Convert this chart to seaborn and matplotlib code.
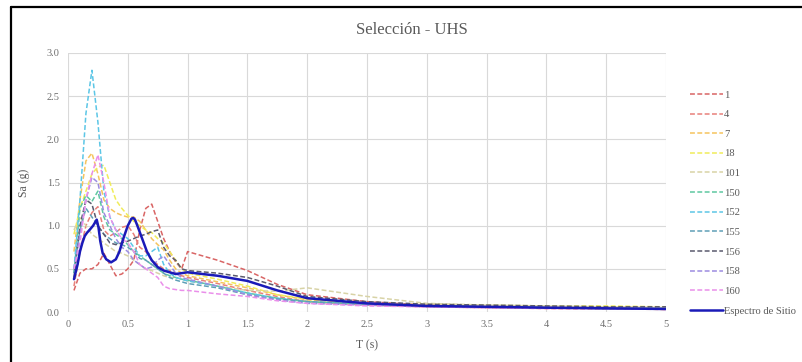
import matplotlib
matplotlib.use("Agg")
import matplotlib.pyplot as plt
from matplotlib.lines import Line2D
import seaborn as sns
import pandas as pd

# ---- data ----
periods = [0.05, 0.1, 0.15, 0.2, 0.25, 0.3, 0.35, 0.4, 0.45, 0.5, 0.55, 0.6, 0.65, 0.7, 0.75,
           0.8, 0.85, 0.9, 0.95, 1.0, 1.25, 1.5, 1.75, 2.0, 2.5, 3.0, 3.5, 4.0, 4.5, 5.0]

s1 = [0.25, 0.45, 0.5, 0.5, 0.55, 0.68, 0.55, 0.42, 0.44, 0.5, 0.6, 0.95, 1.2, 1.25, 1.05,
      0.85, 0.7, 0.58, 0.5, 0.7, 0.6, 0.48, 0.32, 0.2, 0.12, 0.08, 0.06, 0.05, 0.04, 0.03]
s4 = [0.3, 0.7, 1.0, 1.15, 1.22, 0.95, 0.88, 0.92, 0.98, 1.0, 0.9, 0.75, 0.7, 0.6, 0.55,
      0.5, 0.48, 0.45, 0.42, 0.4, 0.33, 0.25, 0.18, 0.12, 0.08, 0.06, 0.05, 0.04, 0.035, 0.03]
s7 = [0.7, 1.3, 1.75, 1.84, 1.6, 1.3, 1.2, 1.15, 1.12, 1.1, 1.1, 1.05, 0.95, 0.85, 0.78,
      0.72, 0.6, 0.5, 0.45, 0.42, 0.35, 0.28, 0.2, 0.14, 0.1, 0.08, 0.07, 0.06, 0.06, 0.05]
s18 = [0.9, 1.2, 1.4, 1.6, 1.68, 1.7, 1.5, 1.3, 1.2, 1.12, 1.05, 1.0, 0.95, 0.92, 0.85,
       0.8, 0.7, 0.6, 0.5, 0.45, 0.38, 0.3, 0.2, 0.15, 0.1, 0.09, 0.08, 0.07, 0.07, 0.06]
s101 = [0.95, 1.1, 1.0, 0.9, 0.85, 0.8, 0.75, 0.7, 0.68, 0.65, 0.6, 0.55, 0.5, 0.48, 0.45,
        0.42, 0.4, 0.4, 0.38, 0.36, 0.3, 0.25, 0.24, 0.28, 0.18, 0.1, 0.08, 0.07, 0.06, 0.05]
s150 = [0.45, 1.2, 1.35, 1.28, 1.4, 1.1, 0.95, 0.9, 0.85, 0.78, 0.7, 0.65, 0.6, 0.55, 0.5,
        0.45, 0.42, 0.4, 0.38, 0.37, 0.3, 0.22, 0.16, 0.12, 0.09, 0.07, 0.06, 0.05, 0.04, 0.04]
s152 = [0.5, 1.3, 2.3, 2.8, 2.2, 1.4, 1.1, 0.95, 0.9, 0.85, 0.75, 0.65, 0.65, 0.7, 0.75,
        0.55, 0.45, 0.4, 0.38, 0.36, 0.3, 0.22, 0.16, 0.12, 0.09, 0.07, 0.06, 0.05, 0.04, 0.04]
s155 = [0.45, 0.95, 1.2, 1.1, 1.0, 0.9, 0.85, 0.8, 0.78, 0.75, 0.7, 0.62, 0.6, 0.55, 0.5,
        0.45, 0.4, 0.37, 0.35, 0.33, 0.28, 0.2, 0.15, 0.12, 0.09, 0.07, 0.06, 0.05, 0.04, 0.04]
s156 = [0.4, 1.0, 1.3, 1.25, 1.0, 0.9, 0.8, 0.78, 0.8, 0.82, 0.85, 0.88, 0.9, 0.93, 0.95,
        0.75, 0.65, 0.6, 0.5, 0.48, 0.45, 0.4, 0.3, 0.18, 0.12, 0.09, 0.08, 0.07, 0.06, 0.06]
s158 = [0.5, 0.9, 1.3, 1.56, 1.5, 1.15, 1.0, 0.85, 0.75, 0.7, 0.6, 0.55, 0.5, 0.52, 0.6,
        0.65, 0.55, 0.45, 0.4, 0.38, 0.3, 0.2, 0.14, 0.1, 0.08, 0.06, 0.05, 0.05, 0.04, 0.04]
s160 = [0.5, 0.8, 1.3, 1.6, 1.82, 1.5, 1.1, 0.95, 0.85, 0.8, 0.7, 0.55, 0.5, 0.45, 0.4,
        0.3, 0.27, 0.26, 0.25, 0.25, 0.21, 0.18, 0.13, 0.1, 0.07, 0.06, 0.05, 0.04, 0.04, 0.03]

site_periods = [0.05, 0.08, 0.1, 0.12, 0.14, 0.16, 0.18, 0.21, 0.24, 0.255, 0.27, 0.29,
                0.32, 0.36, 0.4, 0.43, 0.46, 0.5, 0.53, 0.545, 0.56, 0.58, 0.62, 0.66,
                0.7, 0.75, 0.8, 0.9, 1.0, 1.25, 1.5, 1.75, 2.0, 2.5, 3.0, 4.0, 5.0]
site_sa = [0.38, 0.55, 0.7, 0.8, 0.88, 0.92, 0.95, 1.0, 1.07, 0.98, 0.82, 0.68,
           0.61, 0.575, 0.61, 0.7, 0.84, 1.0, 1.08, 1.09, 1.07, 1.0, 0.85, 0.7,
           0.6, 0.52, 0.48, 0.44, 0.46, 0.42, 0.36, 0.25, 0.16, 0.1, 0.07, 0.05, 0.035]

series_names = ["1", "4", "7", "18", "101", "150", "152", "155", "156", "158", "160"]
series_values = [s1, s4, s7, s18, s101, s150, s152, s155, s156, s158, s160]
series_colors = ["#d96565", "#e8807a", "#f5c45e", "#f0ec5a", "#d8d3a6", "#5ec7a0",
                 "#5cc6e6", "#5f9fb6", "#5a5a6e", "#9c8ce0", "#ea8fea"]
site_name = "Espectro de Sitio"
site_color = "#1a1ab8"

title = "Selección - UHS"
xlabel = "T (s)"
ylabel = "Sa (g)"

# ---- plot ----
sns.set_theme(style="white")
plt.rcParams["font.family"] = ["Liberation Serif", "DejaVu Serif"]

fig = plt.figure(figsize=(8.03, 3.62), dpi=100)
ax = fig.add_axes([68 / 803, 1 - 312 / 362, (666 - 68) / 803, (312 - 53) / 362])

for name, vals, col in zip(series_names, series_values, series_colors):
    df = pd.DataFrame({"T": periods, "Sa": vals})
    sns.lineplot(data=df, x="T", y="Sa", ax=ax, color=col, linewidth=1.1,
                 linestyle=(0, (3.2, 1.6)), label=name)

dfs = pd.DataFrame({"T": site_periods, "Sa": site_sa})
sns.lineplot(data=dfs, x="T", y="Sa", ax=ax, color=site_color, linewidth=1.8, label=site_name)

ax.set_xlim(0, 5)
ax.set_ylim(0, 3.0)
ax.set_xticks([0, 0.5, 1, 1.5, 2, 2.5, 3, 3.5, 4, 4.5, 5])
ax.set_xticklabels(["0", "0.5", "1", "1.5", "2", "2.5", "3", "3.5", "4", "4.5", "5"])
ax.set_yticks([0, 0.5, 1.0, 1.5, 2.0, 2.5, 3.0])
ax.set_yticklabels(["0.0", "0.5", "1.0", "1.5", "2.0", "2.5", "3.0"])
ax.grid(True, color="#d9d9d9", linewidth=0.8)
for s in ax.spines.values():
    s.set_visible(False)
ax.tick_params(axis="both", length=0, labelsize=7.5, colors="#6e6e6e", pad=6)

ax.set_xlabel(xlabel, fontsize=8.5, color="#595959", labelpad=7)
ax.set_ylabel(ylabel, fontsize=8.5, color="#595959", labelpad=12)
fig.text(412 / 803, 1 - 30 / 362, title, ha="center", va="center", fontsize=12, color="#595959")

leg = ax.legend(loc="upper left", bbox_to_anchor=(686 / 803, 1 - 86 / 362),
                bbox_transform=fig.transFigure, frameon=False, fontsize=7.6,
                handlelength=3.1, handletextpad=0.1, labelspacing=0.97, borderaxespad=0)
for t in leg.get_texts():
    t.set_color("#595959")

# outer frame of the screenshot (left and top edges)
fig.add_artist(Line2D([11 / 803, 11 / 803], [0, 1 - 7 / 362], transform=fig.transFigure,
                      color="black", linewidth=1.6))
fig.add_artist(Line2D([11 / 803, 1], [1 - 7 / 362, 1 - 7 / 362], transform=fig.transFigure,
                      color="black", linewidth=1.6))

fig.savefig("out.png", dpi=100)
